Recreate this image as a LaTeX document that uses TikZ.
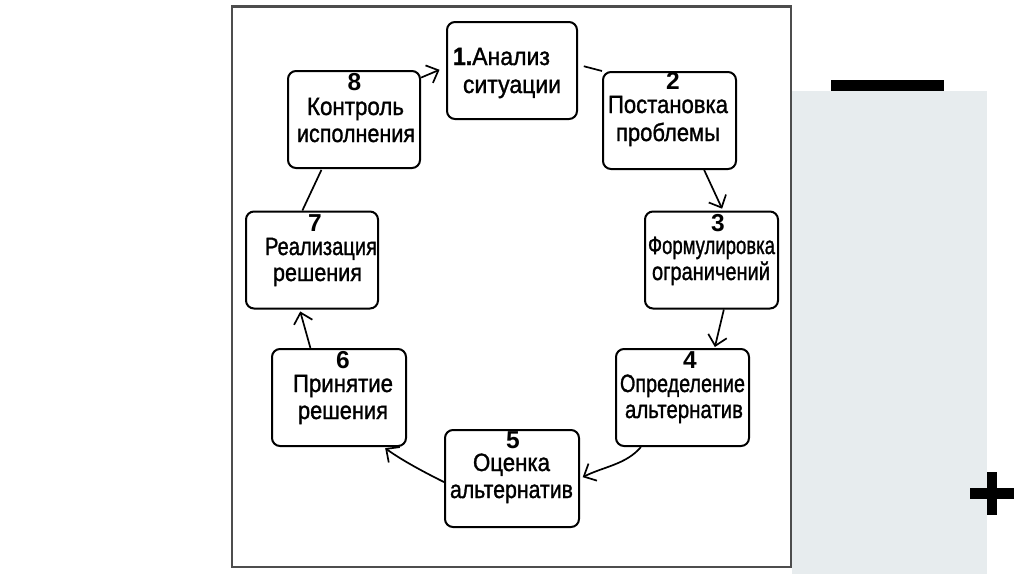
\documentclass[tikz,border=0pt]{standalone}
\usepackage{fontspec}
\setmainfont{Liberation Sans}
\newfontfamily\medfont[FakeBold=1.3]{Liberation Sans}
\usetikzlibrary{arrows.meta}
\newcommand\fitw[2]{\resizebox{#1pt}{\height}{#2}}
\definecolor{panel}{HTML}{E7ECEE}
\definecolor{framec}{HTML}{4D4D4D}
\begin{document}
\begin{tikzpicture}[x=1pt,y=-1pt,
  box/.style={draw, line width=2pt, rounded corners=8pt, minimum width=133pt, minimum height=97pt, inner sep=0pt},
  lbl/.style={anchor=base, inner sep=0pt, font=\fontsize{25}{29}\medfont},
  num/.style={anchor=base, inner sep=0pt, font=\fontsize{24.5}{29}\selectfont\bfseries},
  conn/.style={line width=1.7pt},
  arr/.style={conn, -{Straight Barb[length=10pt,width=19pt]}},
  blk/.style={fill=black, draw=none}]
\useasboundingbox (0,0) rectangle (1024,574);
% right-hand panel
\fill[panel] (792,91) rectangle (987,574);
\fill[blk] (831,80) rectangle (944,91);
\fill[blk] (970,488) rectangle (1014,499);
\fill[blk] (987,472) rectangle (997,515);
% frame
\draw[framec, line width=2.4pt] (232,6.5) rectangle (791,567);
% boxes
\node[box, minimum width=130pt] (b1) at (512,70.5) {};
\node[box] (b2) at (669.5,120.5) {};
\node[box] (b3) at (711.5,260) {};
\node[box] (b4) at (682.5,397.5) {};
\node[box, minimum width=134pt] (b5) at (512,478.5) {};
\node[box, minimum width=134pt] (b6) at (339,397.5) {};
\node[box, minimum width=132pt] (b7) at (312,260) {};
\node[box, minimum width=132pt] (b8) at (354,119.5) {};
% texts
\node[lbl] (t1a) at (501.5,65) {\fitw{97}{\textbf{1.}Анализ}};
\node[lbl] (t1b) at (512,93) {\fitw{98}{ситуации}};
\node[num] (t2n) at (673,89.5) {2};
\node[lbl] (t2a) at (668,113) {\fitw{120}{Постановка}};
\node[lbl] (t2b) at (668,141) {\fitw{104}{проблемы}};
\node[num] (t3n) at (718,231) {3};
\node[lbl] (t3a) at (711.5,254) {\fitw{127}{Формулировка}};
\node[lbl] (t3b) at (711,280) {\fitw{118}{ограничений}};
\node[num] (t4n) at (690,368.5) {4};
\node[lbl] (t4a) at (682.5,392) {\fitw{125}{Определение}};
\node[lbl] (t4b) at (684,418) {\fitw{118}{альтернатив}};
\node[num] (t5n) at (513,448.5) {5};
\node[lbl] (t5a) at (511.5,471) {\fitw{77}{Оценка}};
\node[lbl] (t5b) at (511.5,498) {\fitw{123}{альтернатив}};
\node[num] (t6n) at (343,368.5) {6};
\node[lbl] (t6a) at (343,392) {\fitw{100}{Принятие}};
\node[lbl] (t6b) at (343,419) {\fitw{90}{решения}};
\node[num] (t7n) at (315,231.5) {7};
\node[lbl] (t7a) at (321,255) {\fitw{112}{Реализация}};
\node[lbl] (t7b) at (317.5,281) {\fitw{89}{решения}};
\node[num] (t8n) at (354.5,90) {8};
\node[lbl] (t8a) at (355.5,115) {\fitw{97}{Контроль}};
\node[lbl] (t8b) at (356,142) {\fitw{118}{исполнения}};
% connectors
\draw[conn, shorten <=6pt] (b1.5.7) -- (b2.north west);
\draw[arr, shorten >=2pt] (b2.-55.4) -- (b3.77.7);
\draw[arr, shorten >=1pt] (b3.-76.5) -- (b4.57.8);
\draw[arr, shorten >=3pt] (b4.230) .. controls +(-15,17.5) and +(24,-12) .. (b5.east);
\draw[arr, shorten >=2pt] (b5.183) .. controls +(-22,-11) and +(18,13) .. (b6.-48.4);
\draw[arr, shorten >=2pt] (b6.120.9) -- (b7.-104);
\draw[conn, shorten >=1pt] (b7.101.8) -- (b8.-123.4);
\draw[arr, shorten >=7pt] (b8.32.8) -- (b1.177.8);
\end{tikzpicture}
\end{document}
